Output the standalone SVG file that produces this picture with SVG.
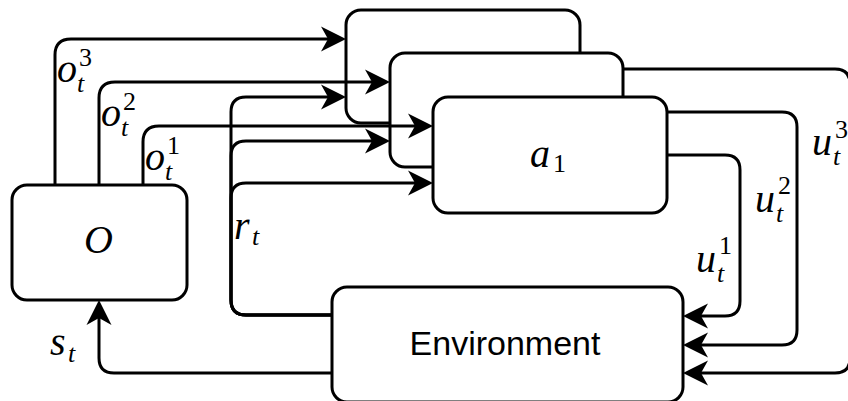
<svg xmlns="http://www.w3.org/2000/svg" width="848" height="401" viewBox="0 0 848 401">
<defs>
<marker id="arr" viewBox="-26 -13 27 26" markerWidth="27" markerHeight="26" refX="-12" refY="0" orient="auto" markerUnits="userSpaceOnUse">
<path d="M0,0 L-25,-12.5 L-18,0 L-25,12.5 Z" fill="#000"/>
</marker>
</defs>
<rect width="848" height="401" fill="#fff"/>
<g fill="#fff" stroke="#000" stroke-width="3">
<g id="agent3"><rect x="346" y="10" width="234" height="113" rx="15"/></g>
<g id="agent2"><rect x="390" y="53" width="233" height="114" rx="15"/></g>
<g id="agent1"><rect x="433" y="97" width="234" height="116" rx="15"/>
<text stroke="none" fill="#000" font-family="Liberation Serif" font-style="italic" font-size="40" x="530" y="167">a</text><text stroke="none" fill="#000" font-family="Liberation Serif" font-size="26" x="553" y="172">1</text></g>
<g id="observer"><rect x="12" y="185" width="175" height="115" rx="15"/>
<text stroke="none" fill="#000" font-family="Liberation Serif" font-style="italic" font-size="40" x="84" y="253">O</text></g>
<g id="environment"><rect x="332" y="287" width="351" height="115" rx="15"/>
<text stroke="none" fill="#000" font-family="Liberation Sans" font-size="34" x="505" y="355" text-anchor="middle">Environment</text></g>
</g>
<g id="connectors" fill="none" stroke="#000" stroke-width="3" marker-end="url(#arr)">
<path d="M55,185 V55 Q55,39 71,39 H334"/>
<path d="M99,185 V98 Q99,82 115,82 H378"/>
<path d="M143,185 V142 Q143,126 159,126 H421"/>
<path d="M332,315 H246 Q231,315 231,300 V112 Q231,97 246,97 H334"/>
<path d="M332,315 H246 Q231,315 231,300 V156 Q231,141 246,141 H378"/>
<path d="M332,315 H246 Q231,315 231,300 V198 Q231,183 246,183 H421"/>
<path d="M667,155 H725 Q740,155 740,170 V301 Q740,316 725,316 H695"/>
<path d="M667,112 H782 Q797,112 797,127 V330 Q797,345 782,345 H695"/>
<path d="M623,69 H835 Q850,69 850,84 V358 Q850,373 835,373 H695"/>
<path d="M332,373 H114 Q99,373 99,358 V312"/>
</g>
<g id="labels" font-family="Liberation Serif" fill="#000">
<text font-style="italic" font-size="40" x="57" y="82">o</text><text font-size="26" x="79" y="66">3</text><text font-style="italic" font-size="26" x="77" y="92">t</text>
<text font-style="italic" font-size="40" x="101" y="126">o</text><text font-size="26" x="123" y="110">2</text><text font-style="italic" font-size="26" x="121" y="136">t</text>
<text font-style="italic" font-size="40" x="145" y="170">o</text><text font-size="26" x="167" y="154">1</text><text font-style="italic" font-size="26" x="165" y="180">t</text>
<text font-style="italic" font-size="40" x="234" y="239">r</text><text font-style="italic" font-size="26" x="252" y="245">t</text>
<text font-style="italic" font-size="40" x="50" y="355">s</text><text font-style="italic" font-size="26" x="68" y="362">t</text>
<text font-style="italic" font-size="40" x="696" y="272">u</text><text font-size="26" x="719" y="254">1</text><text font-style="italic" font-size="26" x="717" y="282">t</text>
<text font-style="italic" font-size="40" x="755" y="212">u</text><text font-size="26" x="778" y="194">2</text><text font-style="italic" font-size="26" x="776" y="222">t</text>
<text font-style="italic" font-size="40" x="812" y="155">u</text><text font-size="26" x="835" y="138">3</text><text font-style="italic" font-size="26" x="833" y="165">t</text>
</g>
</svg>
